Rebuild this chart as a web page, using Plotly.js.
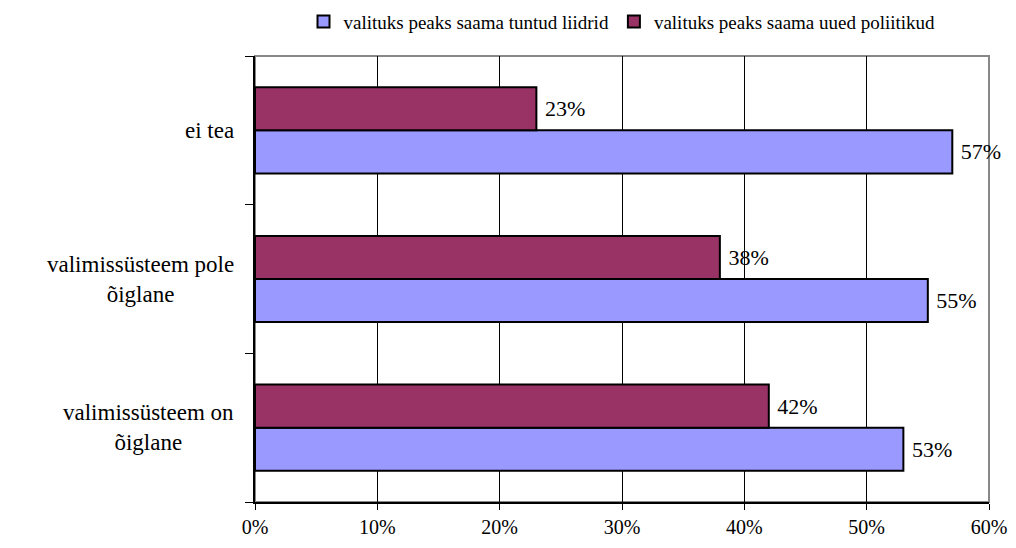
<!DOCTYPE html>
<html>
<head>
<meta charset="utf-8">
<script src="https://cdn.plot.ly/plotly-3.0.1.min.js"></script>
<style>
body{margin:0;padding:0;background:#fff}
#chart{width:1016px;height:548px}
#chart svg text{font-family:'Liberation Serif','Times New Roman',serif !important;}
</style>
</head>
<body>
<div id="chart"></div>
<script>
const categories = ["valimissüsteem on<br>õiglane", "valimissüsteem pole<br>õiglane", "ei tea"];
const seriesNames = ["valituks peaks saama tuntud liidrid", "valituks peaks saama uued poliitikud"];
const tuntudLiidrid = [0.53, 0.55, 0.57];
const uuedPoliitikud = [0.42, 0.38, 0.23];
const xTickVals = [0, 0.1, 0.2, 0.3, 0.4, 0.5, 0.6];
const xTickText = ["0%", "10%", "20%", "30%", "40%", "50%", "60%"];

const FONT = "Liberation Serif";

const traces = [
  {
    type: 'bar', orientation: 'h', name: seriesNames[0],
    y: categories, x: tuntudLiidrid,
    marker: {color: '#9999FF', line: {color: '#000', width: 2}},
    text: tuntudLiidrid.map(v => '\u00a0' + Math.round(v*100) + '%'),
    textposition: 'outside', cliponaxis: false,
    outsidetextfont: {family: FONT, size: 22, color: '#000'},
    textfont: {family: FONT, size: 22, color: '#000'}
  },
  {
    type: 'bar', orientation: 'h', name: seriesNames[1],
    y: categories, x: uuedPoliitikud,
    marker: {color: '#993366', line: {color: '#000', width: 2}},
    text: uuedPoliitikud.map(v => '\u00a0' + Math.round(v*100) + '%'),
    textposition: 'outside', cliponaxis: false,
    outsidetextfont: {family: FONT, size: 22, color: '#000'},
    textfont: {family: FONT, size: 22, color: '#000'}
  }
];

const annotations = categories.map(c => ({
  xref: 'paper', yref: 'y', x: -0.026, y: c, xanchor: 'right', yanchor: 'middle',
  text: c, showarrow: false, align: 'center',
  font: {family: FONT, size: 23, color: '#000'}
}));

const layout = {
  width: 1016, height: 548,
  margin: {l: 255, r: 27, t: 56, b: 46},
  paper_bgcolor: '#fff', plot_bgcolor: '#fff',
  font: {family: FONT, size: 20, color: '#000'},
  barmode: 'group', bargap: 0.42, bargroupgap: 0,
  showlegend: true,
  legend: {orientation: 'h', x: 0.5, xref: 'paper', xanchor: 'center', y: 0.995, yref: 'container', yanchor: 'top',
           font: {family: FONT, size: 19, color: '#000'}, traceorder: 'normal', itemwidth: 30, tracegroupgap: 0},
  xaxis: {
    range: [0, 0.6], tickvals: xTickVals, ticktext: xTickText,
    showgrid: true, gridcolor: '#000', gridwidth: 1,
    showline: true, linecolor: '#000', linewidth: 2,
    ticks: 'outside', ticklen: 6, tickcolor: '#000', tickwidth: 1,
    tickfont: {family: FONT, size: 20, color: '#000'},
    zeroline: false, fixedrange: true
  },
  yaxis: {
    type: 'category', categoryorder: 'array', categoryarray: categories,
    range: [-0.5, 2.5], showticklabels: false,
    showline: true, linecolor: '#000', linewidth: 2,
    ticks: 'outside', ticklen: 8, tickcolor: '#000', tickwidth: 1, tickson: 'boundaries',
    showgrid: false, zeroline: false, fixedrange: true
  },
  shapes: [{type: 'rect', xref: 'paper', yref: 'paper', x0: 0, x1: 1, y0: 0, y1: 1,
            line: {color: '#888', width: 2}, layer: 'below'}],
  annotations: annotations
};

Plotly.newPlot('chart', traces, layout, {staticPlot: true});
</script>
</body>
</html>
